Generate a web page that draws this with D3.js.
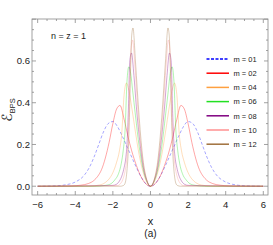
<!DOCTYPE html>
<html>
<head>
<meta charset="utf-8">
<script src="https://cdn.jsdelivr.net/npm/d3@7"></script>
<style>
  body { margin: 0; background: #fff; }
  svg { display: block; font-family: "Liberation Sans", Arial, sans-serif; }
</style>
</head>
<body>
<svg id="chart" width="273" height="245"></svg>
<script>
// half curves (x >= 0), the plot is symmetric in x
const seriesNames = ["m = 01", "m = 02", "m = 04", "m = 06", "m = 08", "m = 10", "m = 12"];
const seriesColors = ["#0000ff", "#ff0000", "#ffa040", "#22e022", "#800080", "#ff9090", "#a0703c"];

const xs01 = [0, 0.25, 0.5, 0.75, 1.0, 1.25, 1.5, 1.75, 2.0, 2.25, 2.5, 2.75, 3.0, 3.25, 3.5, 4.0, 4.5, 5.0, 5.5, 6];
const ys01 = [0, 0.012, 0.045, 0.09, 0.14, 0.19, 0.24, 0.285, 0.31, 0.3, 0.26, 0.2, 0.14, 0.09, 0.055, 0.02, 0.007, 0.002, 0.0005, 0];

const xs02 = [0, 0.25, 0.5, 0.75, 1.0, 1.2, 1.4, 1.62, 1.8, 2.0, 2.2, 2.4, 2.6, 2.8, 3.0, 3.3, 3.7, 4.2, 5, 6];
const ys02 = [0, 0.012, 0.045, 0.1, 0.17, 0.24, 0.32, 0.387, 0.37, 0.3, 0.21, 0.135, 0.08, 0.048, 0.028, 0.013, 0.005, 0.0015, 0, 0];

const xs04 = [0, 0.2, 0.4, 0.6, 0.8, 1.0, 1.15, 1.28, 1.4, 1.53, 1.65, 1.8, 2.0, 2.2, 2.4, 2.7, 3.2, 6];
const ys04 = [0, 0.02, 0.07, 0.15, 0.26, 0.38, 0.46, 0.494, 0.44, 0.25, 0.17, 0.115, 0.065, 0.035, 0.018, 0.006, 0.001, 0];

const xs06 = [0, 0.2, 0.4, 0.6, 0.8, 0.95, 1.05, 1.15, 1.25, 1.35, 1.45, 1.55, 1.7, 1.9, 2.1, 2.4, 3, 6];
const ys06 = [0, 0.025, 0.085, 0.19, 0.34, 0.46, 0.54, 0.572, 0.5, 0.27, 0.17, 0.11, 0.06, 0.03, 0.012, 0.004, 0, 0];

const xs08 = [0, 0.2, 0.4, 0.6, 0.75, 0.88, 1.01, 1.1, 1.18, 1.25, 1.32, 1.4, 1.5, 1.65, 1.8, 2.0, 6];
const ys08 = [0, 0.028, 0.1, 0.24, 0.38, 0.53, 0.638, 0.6, 0.35, 0.2, 0.13, 0.09, 0.055, 0.025, 0.01, 0.004, 0];

const xs10 = [0, 0.2, 0.4, 0.6, 0.72, 0.84, 0.95, 1.03, 1.1, 1.17, 1.24, 1.3, 1.38, 1.48, 1.6, 1.75, 6];
const ys10 = [0, 0.03, 0.115, 0.28, 0.43, 0.59, 0.70, 0.66, 0.47, 0.26, 0.15, 0.1, 0.06, 0.03, 0.012, 0.003, 0];

const xs12 = [0, 0.2, 0.4, 0.6, 0.7, 0.8, 0.93, 1.0, 1.06, 1.12, 1.18, 1.24, 1.3, 1.36, 1.45, 1.6, 6];
const ys12 = [0, 0.032, 0.13, 0.33, 0.46, 0.6, 0.758, 0.72, 0.55, 0.33, 0.17, 0.085, 0.035, 0.012, 0.003, 0, 0];

const xTicks = [-6, -4, -2, 0, 2, 4, 6];
const yTicks = [0.0, 0.2, 0.4, 0.6];

const halfX = [xs01, xs02, xs04, xs06, xs08, xs10, xs12];
const halfY = [ys01, ys02, ys04, ys06, ys08, ys10, ys12];

const svg = d3.select("#chart");
const plotL = 32, plotT = 19, plotR = 268, plotB = 195;

const x = d3.scaleLinear().domain([-6.3, 6.25]).range([plotL, plotR]);
const y = d3.scaleLinear().domain([-0.042, 0.801]).range([plotB, plotT]);

// build the full symmetric curve from the half
function fullCurve(hx, hy) {
  const pts = [];
  for (let i = hx.length - 1; i > 0; i--) pts.push([-hx[i], hy[i]]);
  for (let i = 0; i < hx.length; i++) pts.push([hx[i], hy[i]]);
  return pts;
}

const line = d3.line()
  .x(d => x(d[0]))
  .y(d => y(d[1]))
  .curve(d3.curveMonotoneX);

const curves = svg.append("g");
halfX.forEach((hx, i) => {
  curves.append("path")
    .attr("d", line(fullCurve(hx, halfY[i])))
    .attr("fill", "none")
    .attr("stroke", seriesColors[i])
    .attr("stroke-opacity", 0.35)
    .attr("stroke-width", 1)
    .attr("stroke-dasharray", i === 0 ? "3,2" : null);
});

// frame with inward ticks
const frameColor = "#8a8a8a";
const g = svg.append("g").attr("stroke", frameColor).attr("stroke-width", 0.8);
g.append("rect")
  .attr("x", plotL).attr("y", plotT)
  .attr("width", plotR - plotL).attr("height", plotB - plotT)
  .attr("fill", "none");

const xMinor = d3.range(-6, 6.01, 0.5);
xMinor.forEach(v => {
  const major = Math.abs(v % 2) < 1e-9;
  const len = major ? 4 : 2;
  g.append("line").attr("x1", x(v)).attr("x2", x(v)).attr("y1", plotB).attr("y2", plotB - len);
  g.append("line").attr("x1", x(v)).attr("x2", x(v)).attr("y1", plotT).attr("y2", plotT + len);
});
const yMinor = d3.range(0, 0.801, 0.05);
yMinor.forEach((v, i) => {
  const major = i % 4 === 0;
  const len = major ? 4 : 2;
  g.append("line").attr("x1", plotL).attr("x2", plotL + len).attr("y1", y(v)).attr("y2", y(v));
  g.append("line").attr("x1", plotR).attr("x2", plotR - len).attr("y1", y(v)).attr("y2", y(v));
});

const labels = svg.append("g").attr("fill", "#222").attr("font-size", 9.5);
xTicks.forEach(v => {
  labels.append("text")
    .attr("x", x(v)).attr("y", 207.5)
    .attr("text-anchor", "middle")
    .text(v < 0 ? "\u2212" + Math.abs(v) : v);
});
yTicks.forEach(v => {
  labels.append("text")
    .attr("x", 30).attr("y", y(v) + 3.4)
    .attr("text-anchor", "end")
    .text(v.toFixed(1));
});

// axis titles
svg.append("text")
  .attr("x", x(0)).attr("y", 225)
  .attr("text-anchor", "middle")
  .attr("font-size", 11).attr("fill", "#222")
  .text("x");
svg.append("text")
  .attr("x", x(0)).attr("y", 236.5)
  .attr("text-anchor", "middle")
  .attr("font-size", 10).attr("fill", "#222")
  .text("(a)");

const yl = svg.append("text")
  .attr("transform", "translate(12,110) rotate(-90)")
  .attr("text-anchor", "middle")
  .attr("fill", "#222");
yl.append("tspan").attr("font-size", 14).attr("font-family", "DejaVu Sans").text("\u2130");
yl.append("tspan").attr("font-size", 7.5).attr("dy", 2.5).text("BPS");

svg.append("text")
  .attr("x", 51).attr("y", 38.5)
  .attr("font-size", 9).attr("fill", "#222")
  .text("n = z = 1");

// legend
const legend = svg.append("g");
seriesNames.forEach((name, i) => {
  const ly = 59 + i * 14.2;
  legend.append("line")
    .attr("x1", 206.5).attr("x2", 229)
    .attr("y1", ly).attr("y2", ly)
    .attr("stroke", seriesColors[i])
    .attr("stroke-width", 1.5)
    .attr("stroke-dasharray", i === 0 ? "3,1.5" : null);
  legend.append("text")
    .attr("x", 233.5).attr("y", ly + 2.7)
    .attr("font-size", 7.5).attr("fill", "#222")
    .text(name);
});
</script>
</body>
</html>
